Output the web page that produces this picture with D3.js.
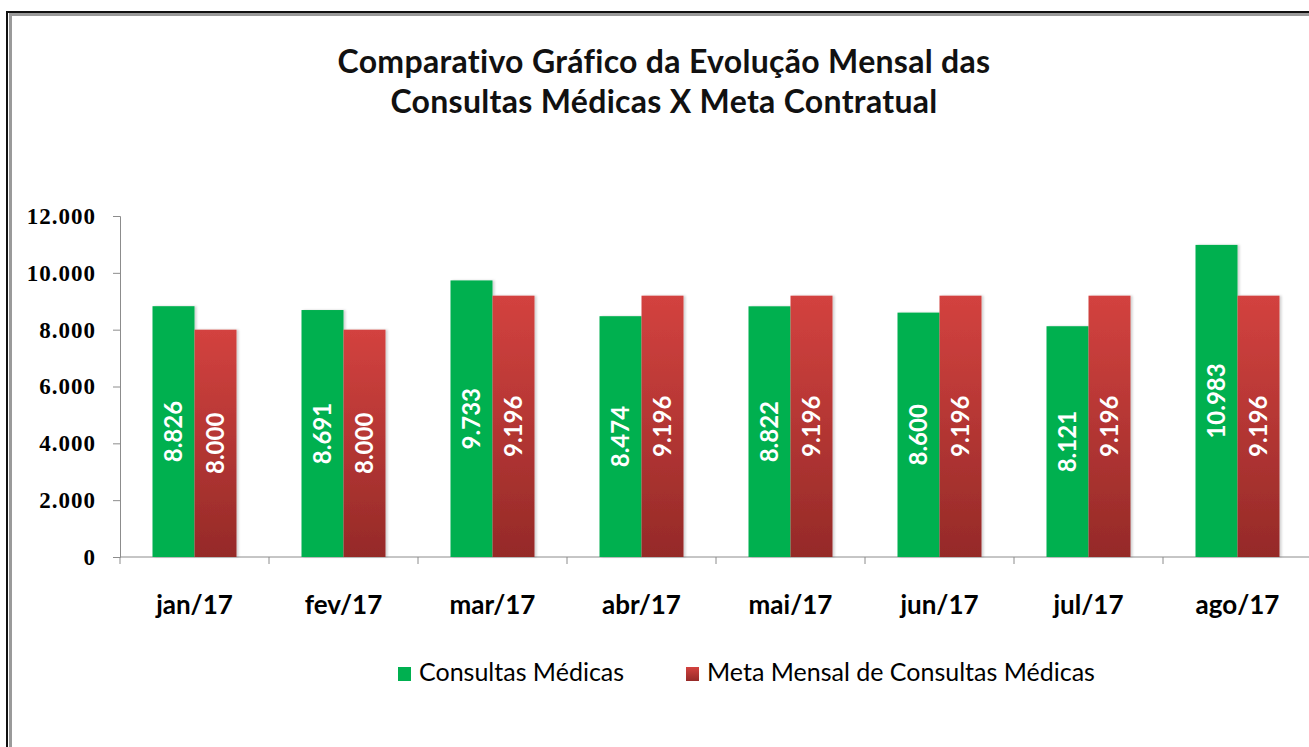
<!DOCTYPE html>
<html><head><meta charset="utf-8">
<script src="https://cdn.jsdelivr.net/npm/d3@7"></script>
<style>html,body{margin:0;padding:0;background:#fff;overflow:hidden}</style>
</head><body>
<svg id="chart" width="1309" height="747"></svg>
<script>
const months = ["jan/17","fev/17","mar/17","abr/17","mai/17","jun/17","jul/17","ago/17"];
const consultas = [8826, 8691, 9733, 8474, 8822, 8600, 8121, 10983];
const meta = [8000, 8000, 9196, 9196, 9196, 9196, 9196, 9196];
const seriesNames = ["Consultas Médicas", "Meta Mensal de Consultas Médicas"];
const yTicks = [0, 2000, 4000, 6000, 8000, 10000, 12000];
const titleLines = ["Comparativo Gráfico da Evolução Mensal das", "Consultas Médicas X Meta Contratual"];

const svg = d3.select("#chart");
const W = 1309, H = 747;
svg.append("rect").attr("width", W).attr("height", H).attr("fill", "#fff");

const defs = svg.append("defs");
const grad = defs.append("linearGradient").attr("id", "redGrad")
  .attr("x1", 0).attr("y1", 0).attr("x2", 0).attr("y2", 1);
grad.append("stop").attr("offset", "0%").attr("stop-color", "#D3423F");
grad.append("stop").attr("offset", "100%").attr("stop-color", "#952A28");
const shadow = defs.append("filter").attr("id", "sh").attr("x", "-20%").attr("y", "-5%").attr("width", "140%").attr("height", "110%");
shadow.append("feDropShadow").attr("dx", 2).attr("dy", 0).attr("stdDeviation", 1.2).attr("flood-color", "#000").attr("flood-opacity", 0.18);

// frame
svg.append("rect").attr("x", 7).attr("y", 12).attr("width", W + 20).attr("height", H + 20)
  .attr("fill", "none").attr("stroke", "#111").attr("stroke-width", 2);
svg.append("rect").attr("x", 10.5).attr("y", 14.5).attr("width", W + 20).attr("height", H + 20)
  .attr("fill", "none").attr("stroke", "#9a9a9a").attr("stroke-width", 3);

// title
const title = svg.append("text").attr("text-anchor", "middle")
  .attr("font-family", "Lato, 'Open Sans', sans-serif").attr("font-weight", 700)
  .attr("font-size", 32).attr("letter-spacing", 0.3).attr("fill", "#111");
title.selectAll("tspan").data(titleLines).join("tspan")
  .attr("x", 664).attr("y", (d, i) => 73 + i * 40).text(d => d);

const left = 120, bandW = 149;
const x = d3.scaleBand().domain(months).range([left, left + bandW * months.length]).paddingInner(0).paddingOuter(0);
const y = d3.scaleLinear().domain([0, 12000]).range([557, 216]);
const barW = 42;
const xs = d3.scaleBand().domain([0, 1]).range([0, barW * 2]);

// y axis
const yAxis = d3.axisLeft(y).tickValues(yTicks).tickSize(7).tickPadding(17)
  .tickFormat(d => d3.format(",")(d).replace(/,/g, "."));
const gy = svg.append("g").attr("transform", `translate(${left},0)`).call(yAxis);
gy.select(".domain").attr("stroke", "#8c8c8c");
gy.selectAll(".tick line").attr("stroke", "#8c8c8c");
gy.selectAll(".tick text").attr("font-family", "'Liberation Serif', serif").attr("font-weight", 700)
  .attr("font-size", 23).attr("letter-spacing", 1).attr("fill", "#000");

// x axis
const gx = svg.append("g").attr("transform", `translate(0,${y(0)})`);
gx.append("line").attr("x1", left).attr("x2", left + bandW * months.length).attr("stroke", "#8c8c8c");
gx.selectAll("line.tk").data(d3.range(months.length + 1)).join("line").attr("class", "tk")
  .attr("x1", i => left + i * bandW).attr("x2", i => left + i * bandW)
  .attr("y1", 0).attr("y2", 7).attr("stroke", "#8c8c8c");
gx.selectAll("text").data(months).join("text")
  .attr("x", d => x(d) + x.bandwidth() / 2).attr("y", 57)
  .attr("text-anchor", "middle").attr("font-family", "Lato, sans-serif").attr("font-weight", 700)
  .attr("font-size", 26).attr("fill", "#000").text(d => d);

// bars
const data = months.map((m, i) => ({ m, v: [consultas[i], meta[i]] }));
const groups = svg.append("g").selectAll("g").data(data).join("g")
  .attr("transform", d => `translate(${x(d.m) + (x.bandwidth() - barW * 2) / 2},0)`);
const fills = ["#00B050", "url(#redGrad)"];
groups.selectAll("rect").data(d => d.v).join("rect")
  .attr("x", (d, i) => xs(i)).attr("width", xs.bandwidth())
  .attr("y", d => y(d)).attr("height", d => y(0) - y(d))
  .attr("fill", (d, i) => fills[i]).attr("filter", "url(#sh)");
groups.selectAll("text").data(d => d.v).join("text")
  .attr("transform", (d, i) => `translate(${xs(i) + xs.bandwidth() / 2},${(y(d) + y(0)) / 2}) rotate(-90)`)
  .attr("text-anchor", "middle").attr("dy", "0.36em")
  .attr("font-family", "Lato, sans-serif").attr("font-weight", 700).attr("font-size", 24)
  .attr("fill", "#fff").text(d => d3.format(",")(d).replace(/,/g, "."));

// legend
const legendX = [398, 686];
const lg = svg.append("g").selectAll("g").data(seriesNames).join("g")
  .attr("transform", (d, i) => `translate(${legendX[i]},667)`);
lg.append("rect").attr("width", 13).attr("height", 14).attr("fill", (d, i) => fills[i]);
lg.append("text").attr("x", 21).attr("y", 14).attr("font-family", "Lato, sans-serif")
  .attr("font-size", 25).attr("fill", "#000").text(d => d);
</script>
</body></html>
